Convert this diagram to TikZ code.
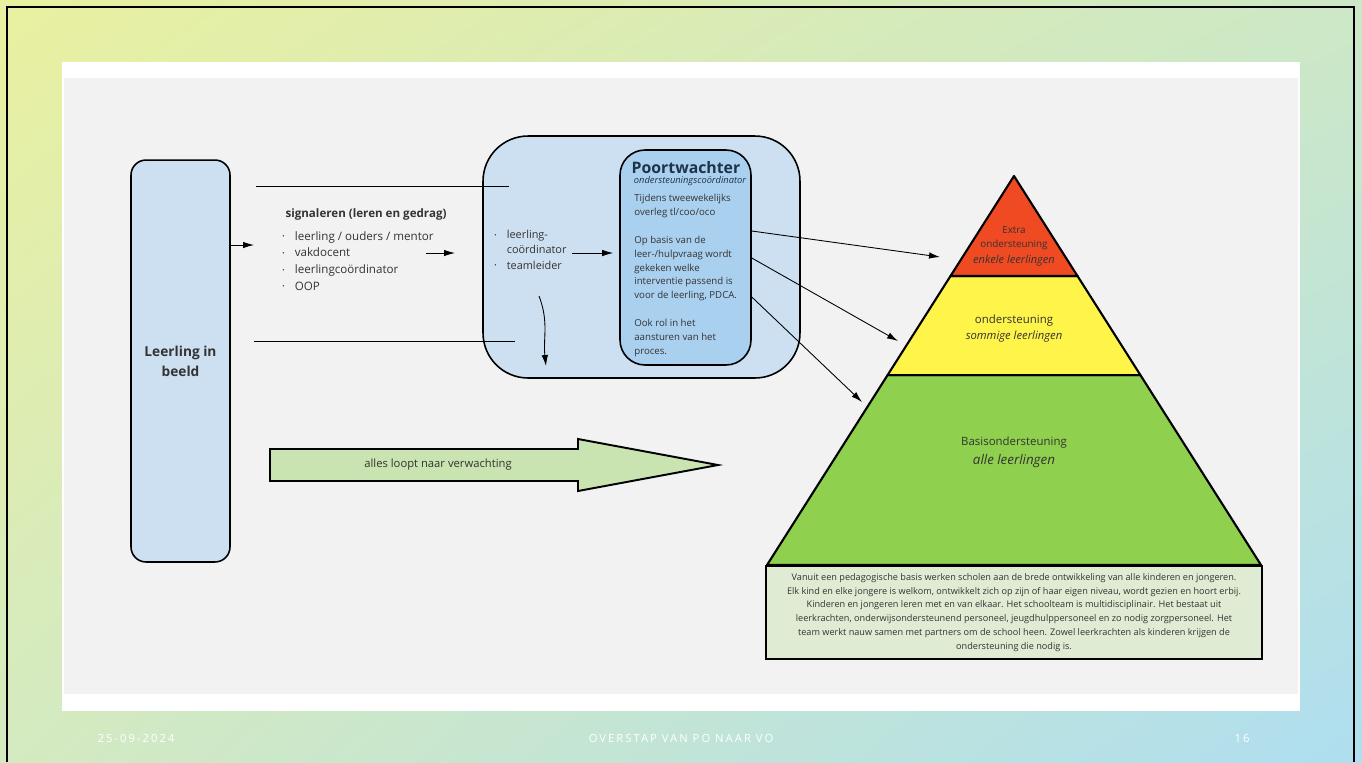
\documentclass[tikz,border=0pt]{standalone}
\usepackage{fontspec}
\setmainfont{Open Sans}
\newfontfamily\footfont[LetterSpace=18]{Open Sans}
\usepackage{tikz}
\usetikzlibrary{calc,shadings,arrows.meta}

\definecolor{bgul}{RGB}{233,240,160}
\definecolor{bgur}{RGB}{205,232,198}
\definecolor{bgll}{RGB}{212,234,192}
\definecolor{bglr}{RGB}{174,222,240}
\definecolor{slidegrey}{RGB}{242,242,242}
\definecolor{boxblue}{RGB}{204,224,241}
\definecolor{pwblue}{RGB}{170,208,240}
\definecolor{pwtitle}{RGB}{30,50,72}
\definecolor{txt}{RGB}{51,51,51}
\definecolor{pyrred}{RGB}{240,74,35}
\definecolor{pyryellow}{RGB}{255,244,74}
\definecolor{pyrgreen}{RGB}{143,209,79}
\definecolor{infogreen}{RGB}{224,235,211}
\definecolor{arrgreen}{RGB}{201,228,176}

\newcommand\itm{\makebox[0.25cm][l]{\raisebox{0.25ex}{\fontsize{3.5}{3.5}\selectfont\textbullet}}}

\begin{document}
\begin{tikzpicture}[x=0.02cm,y=-0.02cm,>={Latex[length=2.2mm,width=1.3mm]},text=txt]
\useasboundingbox (0,0) rectangle (1362,762);
\shade[upper left=bgul,upper right=bgur,lower left=bgll,lower right=bglr] (0,0) rectangle (1362,762);
\draw[line width=1.6pt] (7,762) -- (7,7) -- (1354,7) -- (1354,762);
\fill[white] (62,62) rectangle (1300,711);
\fill[slidegrey] (64,78) rectangle (1298,694);

\node[draw,fill=boxblue,line width=0.9pt,rounded corners=0.3cm,minimum width=1.98cm,minimum height=8.04cm] (lb) at (180.5,361) {};
\node[font=\fontsize{7.8}{11.3}\selectfont\bfseries,align=center] (lbt) at (lb) {Leerling in\\beeld};

\node[draw,fill=boxblue,line width=0.9pt,rounded corners=0.9cm,minimum width=6.34cm,minimum height=4.84cm] (oc) at (641.5,257) {};
\node[draw,fill=pwblue,line width=0.9pt,rounded corners=0.5cm,minimum width=2.62cm,minimum height=4.3cm] (pw) at (685.5,257.5) {};
\node[font=\fontsize{9}{10}\selectfont\bfseries,text=pwtitle] (pwt) at (686,168) {Poortwachter};
\node[font=\fontsize{5.3}{6}\selectfont\itshape,text=pwtitle] (pws) at (690,181) {ondersteuningscoördinator};
\node[anchor=north west,inner sep=0pt,align=left,font=\fontsize{5.5}{7.9}\selectfont] (pwb) at (634,194) {Tijdens tweewekelijks\\overleg tl/coo/oco\\[7.9pt]Op basis van de\\leer-/hulpvraag wordt\\gekeken welke\\interventie passend is\\voor de leerling, PDCA.\\[7.9pt]Ook rol in het\\aansturen van het\\proces.};

\node[font=\fontsize{6.6}{8}\selectfont\bfseries] (sig) at (366,214) {signaleren (leren en gedrag)};
\node[anchor=north west,inner sep=0pt,align=left,font=\fontsize{6.6}{9.5}\selectfont] (sigl) at (282,231) {\itm leerling / ouders / mentor\\\itm vakdocent\\\itm leerlingcoördinator\\\itm OOP};
\node[anchor=north west,inner sep=0pt,align=left,font=\fontsize{6.2}{8.7}\selectfont] (ocl) at (494,230) {\itm leerling-\\\hspace*{0.25cm}coördinator\\\itm teamleider};

\coordinate (l1s) at (256,186);
\coordinate (l1e) at (509,186);
\coordinate (l2s) at (254,341);
\coordinate (l2e) at (515,341);
\coordinate (a1e) at (254,245);
\coordinate (a2s) at (426,253);
\coordinate (a2e) at (455,253);
\coordinate (a3s) at (572,253);
\coordinate (c1s) at (539,296);
\coordinate (c1e) at (546,366);
\draw[line width=0.5pt] (l1s) -- (l1e);
\draw[line width=0.5pt] (l2s) -- (l2e);
\draw[->,line width=0.5pt] (lb.east |- a1e) -- (a1e);
\draw[->,line width=0.5pt] (a2s) -- (a2e);
\draw[->,line width=0.5pt,shorten >=0.12cm] (a3s) -- (pw.west |- a3s);
\draw[->,line width=0.5pt] (c1s) .. controls (549,322) and (543,338) .. (c1e);

\coordinate (top) at (1014,176);
\coordinate (bl) at (767,565);
\coordinate (br) at (1261,565);
\coordinate (r1) at ($(top)!0.257!(bl)$);
\coordinate (r2) at ($(top)!0.257!(br)$);
\coordinate (y1) at ($(top)!0.512!(bl)$);
\coordinate (y2) at ($(top)!0.512!(br)$);
\filldraw[fill=pyrgreen,line width=1.2pt,line join=round] (y1) -- (y2) -- (br) -- (bl) -- cycle;
\filldraw[fill=pyryellow,line width=1.2pt,line join=round] (r1) -- (r2) -- (y2) -- (y1) -- cycle;
\filldraw[fill=pyrred,line width=1.2pt,line join=round] (top) -- (r2) -- (r1) -- cycle;

\node[align=center,font=\fontsize{5.6}{7.8}\selectfont] (ext) at (1014,238) {Extra\\ondersteuning};
\node[font=\fontsize{6.3}{7}\selectfont\itshape] (extl) at (1014,261) {enkele leerlingen};
\node[font=\fontsize{6.5}{7}\selectfont] (ond) at (1014,321) {ondersteuning};
\node[font=\fontsize{6.4}{7}\selectfont\itshape] (ondl) at (1014,337) {sommige leerlingen};
\node[font=\fontsize{6.5}{7}\selectfont] (bas) at (1014,443) {Basisondersteuning};
\node[font=\fontsize{7.6}{8}\selectfont\itshape] (basl) at (1014,461) {alle leerlingen};

\node[draw,fill=infogreen,line width=1.3pt,minimum width=9.92cm,minimum height=1.86cm,align=center,font=\fontsize{5.2}{7.9}\selectfont] (info) at (1014,612.5) {Vanuit een pedagogische basis werken scholen aan de brede ontwikkeling van alle kinderen en jongeren.\\Elk kind en elke jongere is welkom, ontwikkelt zich op zijn of haar eigen niveau, wordt gezien en hoort erbij.\\Kinderen en jongeren leren met en van elkaar. Het schoolteam is multidisciplinair. Het bestaat uit\\leerkrachten, onderwijsondersteunend personeel, jeugdhulppersoneel en zo nodig zorgpersoneel. Het\\team werkt nauw samen met partners om de school heen. Zowel leerkrachten als kinderen krijgen de\\ondersteuning die nodig is.};

\coordinate (p1) at (940,257);
\coordinate (p2) at (898,341);
\coordinate (p3) at (862,402);
\draw[->,line width=0.5pt] ([yshift=0.53cm]pw.east) -- (p1);
\draw[->,line width=0.5pt] ([yshift=-0.01cm]pw.east) -- (p2);
\draw[->,line width=0.5pt] ([yshift=-0.79cm]pw.east) -- (p3);

\filldraw[fill=arrgreen,line width=1.1pt] (270,449) -- (578,449) -- (578,439) -- (718,465) -- (578,491) -- (578,481) -- (270,481) -- cycle;
\node[font=\fontsize{6.4}{7}\selectfont] (arr) at (438,465) {alles loopt naar verwachting};

\node[text=white,font=\footfont\fontsize{6.4}{7}\selectfont] (fd) at (136,738) {25-09-2024};
\node[text=white,font=\footfont\fontsize{6.4}{7}\selectfont] (ft) at (681,738) {OVERSTAP VAN PO NAAR VO};
\node[text=white,font=\footfont\fontsize{6.4}{7}\selectfont] (fn) at (1242,738) {16};
\end{tikzpicture}
\end{document}
